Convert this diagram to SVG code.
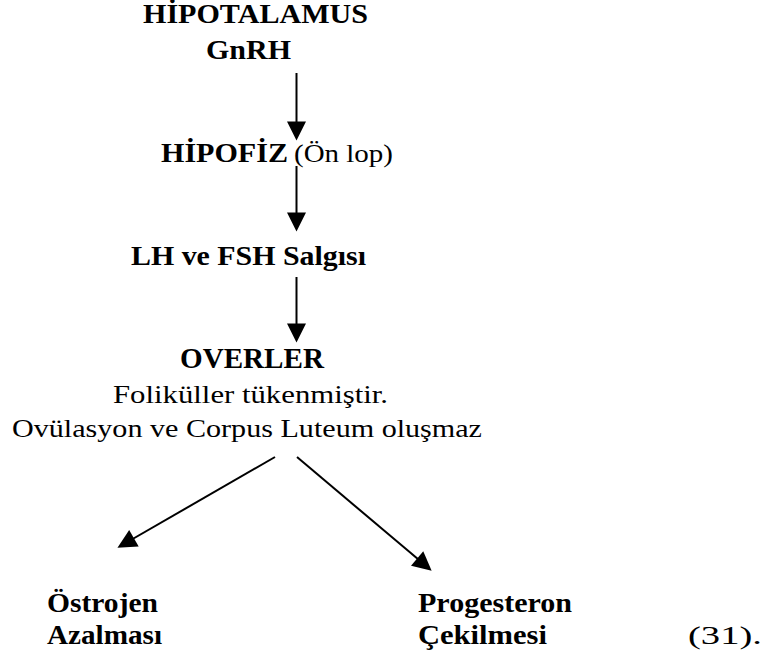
<svg xmlns="http://www.w3.org/2000/svg" width="771" height="657" viewBox="0 0 771 657">
<style>
.b{font-weight:bold;font-size:27px}
.r{font-size:26px}
.c{stroke:#000;stroke-width:2;fill:none}
</style>
<defs>
<marker id="ah" viewBox="0 0 20 20" markerWidth="20" markerHeight="19" refX="10" refY="10" orient="auto" markerUnits="userSpaceOnUse">
<path d="M0,0 L20,10 L0,20 Z" fill="#000"/>
</marker>
</defs>
<rect width="771" height="657" fill="#fff"/>
<g id="connectors">
<line class="c" x1="296.5" y1="73" x2="296.5" y2="131" marker-end="url(#ah)"/>
<line class="c" x1="296.5" y1="166" x2="296.5" y2="222" marker-end="url(#ah)"/>
<line class="c" x1="296.5" y1="277" x2="296.5" y2="333" marker-end="url(#ah)"/>
<line class="c" x1="275" y1="457" x2="125.7" y2="543" marker-end="url(#ah)"/>
<line class="c" x1="297" y1="457" x2="424.4" y2="564.6" marker-end="url(#ah)"/>
</g>
<g font-family="Liberation Serif, Times New Roman, serif" fill="#000">
<g id="hipotalamus">
<text class="b" x="143" y="23" textLength="225" lengthAdjust="spacingAndGlyphs">HİPOTALAMUS</text>
<text class="b" x="206" y="59" textLength="85" lengthAdjust="spacingAndGlyphs">GnRH</text>
</g>
<g id="hipofiz">
<text class="b" x="161" y="162" textLength="127" lengthAdjust="spacingAndGlyphs">HİPOFİZ</text>
<text class="r" x="294" y="162" textLength="99" lengthAdjust="spacingAndGlyphs">(Ön lop)</text>
</g>
<g id="lhfsh">
<text class="b" x="131" y="265" textLength="235" lengthAdjust="spacingAndGlyphs">LH ve FSH Salgısı</text>
</g>
<g id="overler">
<text class="b" x="180" y="368" font-size="29" textLength="144" lengthAdjust="spacingAndGlyphs" style="font-size:29px">OVERLER</text>
<text class="r" x="113" y="403" textLength="275" lengthAdjust="spacingAndGlyphs">Foliküller tükenmiştir.</text>
<text class="r" x="12" y="437" textLength="470" lengthAdjust="spacingAndGlyphs">Ovülasyon ve Corpus Luteum oluşmaz</text>
</g>
<g id="ostrojen">
<text class="b" x="47" y="612" textLength="111" lengthAdjust="spacingAndGlyphs">Östrojen</text>
<text class="b" x="47" y="644" textLength="115" lengthAdjust="spacingAndGlyphs">Azalması</text>
</g>
<g id="progesteron">
<text class="b" x="418" y="612" textLength="154" lengthAdjust="spacingAndGlyphs">Progesteron</text>
<text class="b" x="418" y="644" textLength="129" lengthAdjust="spacingAndGlyphs">Çekilmesi</text>
</g>
<g id="ref">
<text class="r" x="688" y="644" textLength="74" lengthAdjust="spacingAndGlyphs">(31).</text>
</g>
</g>
</svg>
